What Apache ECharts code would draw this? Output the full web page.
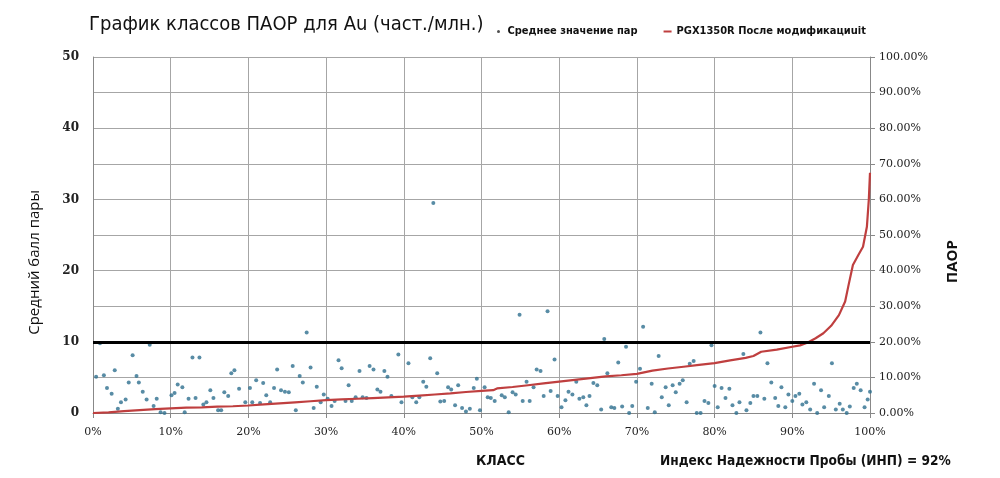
<!DOCTYPE html>
<html><head><meta charset="utf-8">
<script src="https://cdn.jsdelivr.net/npm/echarts@6/dist/echarts.min.js"></script>
<style>html,body{margin:0;padding:0;background:#fff}#c{width:1000px;height:478px}</style>
</head><body><div id="c"></div>
<script>
const titleText = 'График классов ПАОР для Au (част./млн.)';
const scatterName = 'Среднее значение пар';
const lineName = 'PGX1350R После модификациuit';
const leftAxisName = 'Средний балл пары';
const rightAxisName = 'ПАОР';
const xAxisName = 'КЛАСС';
const indexText = 'Индекс Надежности Пробы (ИНП) = 92%';
const thresholdValue = 10;

// scatter: class position (%) and mean pair value
const pairX = [0.4,0.9,1.4,1.8,2.4,2.8,3.2,3.6,4.2,4.6,5.1,5.6,5.9,6.4,6.9,7.3,7.8,8.2,8.7,9.2,
10.1,10.5,10.9,11.5,11.8,12.3,12.8,13.2,13.7,14.2,14.6,15.1,15.5,16.1,16.5,16.9,17.4,17.8,18.2,18.8,19.6,
20.2,20.5,21.0,21.5,21.9,22.3,22.8,23.3,23.7,24.2,24.7,25.2,25.7,26.1,26.6,27.0,27.5,28.0,28.4,28.8,29.3,29.7,
30.2,30.7,31.1,31.6,32.0,32.5,32.9,33.3,33.8,34.3,34.7,35.2,35.6,36.1,36.6,37.0,37.5,37.9,38.4,39.3,39.7,
40.6,41.1,41.6,42.0,42.5,42.9,43.4,43.8,44.3,44.7,45.2,45.7,46.1,46.6,47.0,47.5,48.0,48.5,49.0,49.4,49.8,
50.4,50.8,51.2,51.7,52.6,53.0,53.5,54.0,54.4,54.9,55.3,55.8,56.2,56.7,57.1,57.6,58.0,58.5,58.9,59.4,59.8,
60.3,60.8,61.2,61.7,62.2,62.6,63.1,63.5,63.9,64.4,64.9,65.4,65.8,66.2,66.7,67.1,67.6,68.1,68.6,69.0,69.4,69.9,
70.4,70.8,71.4,71.9,72.3,72.8,73.2,73.7,74.1,74.6,75.0,75.5,75.9,76.4,76.8,77.3,77.7,78.2,78.7,79.2,79.6,
80.0,80.4,80.9,81.4,81.9,82.3,82.8,83.2,83.7,84.1,84.6,85.0,85.5,85.9,86.4,86.8,87.3,87.8,88.2,88.6,89.1,89.5,
90.0,90.4,90.9,91.3,91.8,92.3,92.8,93.2,93.7,94.1,94.7,95.1,95.6,96.1,96.5,97.0,97.4,97.9,98.3,98.8,99.3,99.7,100.0];
const pairY = [5.1,9.8,5.3,3.5,2.7,6.0,0.6,1.5,1.9,4.3,8.1,5.2,4.3,3.0,1.9,9.6,1.0,2.0,0.1,0.0,
2.5,2.8,4.0,3.6,0.1,2.0,7.8,2.1,7.8,1.2,1.5,3.2,2.1,0.4,0.4,2.9,2.4,5.6,6.0,3.4,1.5,
3.5,1.5,4.6,1.4,4.2,2.5,1.5,3.5,6.1,3.2,3.0,2.9,6.6,0.4,5.2,4.3,11.3,6.4,0.7,3.7,1.5,2.6,
2.0,1.0,1.7,7.4,6.3,1.7,3.9,1.7,2.2,5.9,2.2,2.1,6.6,6.1,3.3,3.0,5.9,5.1,2.4,8.2,1.5,
7.0,2.2,1.5,2.2,4.4,3.7,7.7,29.5,5.6,1.6,1.7,3.6,3.3,1.1,3.9,0.7,0.2,0.6,3.5,4.8,0.4,
3.6,2.2,2.1,1.7,2.5,2.2,0.1,2.9,2.6,13.8,1.7,4.4,1.7,3.6,6.1,5.9,2.4,14.3,3.1,7.5,2.4,
0.8,1.8,3.0,2.6,4.4,2.0,2.2,1.1,2.4,4.2,3.9,0.5,10.4,5.6,0.8,0.7,7.1,0.9,9.3,0.0,1.0,4.4,
6.2,12.1,0.7,4.1,0.1,8.0,2.2,3.6,1.1,3.9,2.9,4.1,4.6,1.5,6.9,7.3,0.0,0.0,1.7,1.4,9.5,
3.8,0.8,3.5,2.1,3.4,1.1,0.0,1.5,8.3,0.4,1.4,2.4,2.4,11.3,2.0,7.0,4.3,2.1,1.0,3.6,0.8,2.6,
1.7,2.4,2.7,1.2,1.5,0.5,4.1,0.0,3.2,0.8,2.4,7.0,0.5,1.3,0.5,0.0,0.9,3.5,4.1,3.2,0.8,1.9,3.0];

// cumulative PAOR curve (%)
const curveX = [0,2,4,6,8,10,12,14,16,18,20,22,24,26,28,30,32,34,36,38,40,42,44,46,48,50,51.5,52,54,56,58,60,62,64,66,68,70,72,74,76,78,80,82,84,85,86,88,90,91,92,93,94,95,96,96.8,97.2,97.8,98.5,99.1,99.6,99.85,100];
const curveY = [0,0.2,0.5,0.8,1.1,1.3,1.5,1.6,1.8,1.9,2.1,2.4,2.7,3.0,3.3,3.6,3.8,4.0,4.2,4.4,4.6,4.9,5.2,5.5,5.9,6.2,6.4,6.9,7.3,7.8,8.3,8.8,9.3,9.8,10.3,10.6,11.0,11.9,12.5,13.0,13.5,14.0,14.8,15.5,16.0,17.2,17.8,18.6,19.0,19.8,21.0,22.4,24.5,27.5,31.3,35.5,41.6,44.4,46.7,52.3,60.0,67.5];

const pairData = pairX.map((x, i) => [x, pairY[i]]);
const curveData = curveX.map((x, i) => [x, curveY[i]]);

const serif = 'DejaVu Serif';
const narrow = '"DejaVu Sans Condensed", "Liberation Sans Narrow", sans-serif';

const chart = echarts.init(document.getElementById('c'), null, {renderer: 'canvas'});
chart.setOption({
  animation: false,
  backgroundColor: '#fff',
  title: {
    text: titleText, left: 84, top: 10,
    textStyle: {fontFamily: narrow, fontSize: 20, fontWeight: 'normal', color: '#111'}
  },
  legend: {
    left: 492, top: 21, itemGap: 26, itemWidth: 8, itemHeight: 3,
    textStyle: {fontFamily: narrow, fontSize: 11, fontWeight: 'bold', color: '#111'},
    data: [
      {name: scatterName, icon: 'circle', itemStyle: {color: '#222'}},
      {name: lineName, icon: 'path://M0,0H8V2H0Z'}
    ]
  },
  grid: {left: 93, right: 130, top: 57, bottom: 65},
  xAxis: {
    type: 'value', min: 0, max: 100, interval: 10,
    axisLine: {lineStyle: {color: '#888'}},
    axisTick: {show: true, length: 5, lineStyle: {color: '#888'}},
    axisLabel: {formatter: '{value}%', fontFamily: serif, fontSize: 11, color: '#222', margin: 14},
    splitLine: {show: true, lineStyle: {color: '#a6a6a6', width: 1}}
  },
  yAxis: [
    {
      type: 'value', min: 0, max: 50, interval: 10, position: 'left',
      axisLine: {show: true, lineStyle: {color: '#888'}},
      axisTick: {show: false},
      axisLabel: {fontFamily: serif, fontSize: 12, fontWeight: 'bold', color: '#222', margin: 14},
      splitLine: {show: false}
    },
    {
      type: 'value', min: 0, max: 100, interval: 10, position: 'right',
      axisLine: {show: true, lineStyle: {color: '#888'}},
      axisTick: {show: true, length: 5, lineStyle: {color: '#888'}},
      axisLabel: {formatter: v => v.toFixed(2) + '%', fontFamily: serif, fontSize: 11, color: '#222', margin: 9},
      splitLine: {show: true, lineStyle: {color: '#a6a6a6', width: 1}}
    }
  ],
  series: [
    {
      name: scatterName, type: 'scatter', yAxisIndex: 0, data: pairData,
      symbolSize: 4, itemStyle: {color: '#2e6f8e'},
      markLine: {
        silent: true, symbol: ['none', 'none'],
        label: {show: false},
        lineStyle: {color: '#000', width: 3, type: 'solid'},
        data: [{yAxis: thresholdValue}]
      },
      z: 3
    },
    {
      name: lineName, type: 'line', yAxisIndex: 1, data: curveData,
      showSymbol: false, symbol: 'none',
      lineStyle: {color: '#bf3f3f', width: 2.2}, itemStyle: {color: '#bf3f3f'},
      z: 4
    }
  ],
  graphic: [
    {type: 'text', left: 27, top: 262 - 72, rotation: Math.PI / 2,
     style: {text: leftAxisName, font: '15px "Open Sans", sans-serif', fill: '#111'}},
    {type: 'text', x: 945, y: 283, rotation: Math.PI / 2,
     style: {text: rightAxisName, font: 'bold 15px "Open Sans", sans-serif', fill: '#111'}},
    {type: 'text', left: 476, top: 454,
     style: {text: xAxisName, font: 'bold 14px ' + narrow, fill: '#111'}},
    {type: 'text', left: 660, top: 454,
     style: {text: indexText, font: 'bold 13.6px ' + narrow, fill: '#111'}}
  ]
});
</script></body></html>
